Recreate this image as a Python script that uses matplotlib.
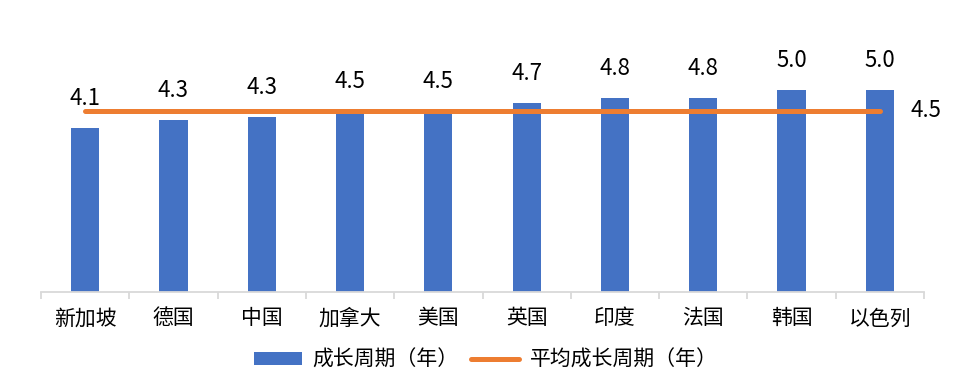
import matplotlib.pyplot as plt
import numpy as np

plt.rcParams["font.family"] = ["Noto Sans CJK SC", "DejaVu Sans"]

countries = ["新加坡", "德国", "中国", "加拿大", "美国", "英国", "印度", "法国", "韩国", "以色列"]
cycle_years = [4.06, 4.26, 4.33, 4.48, 4.47, 4.68, 4.80, 4.80, 5.00, 5.00]
avg_years = [4.48] * len(countries)

BAR_COLOR = "#4472c4"
LINE_COLOR = "#ed7d31"
AXIS_COLOR = "#d9d9d9"

fig = plt.figure(figsize=(9.69, 3.92), dpi=100)
ax = fig.add_axes([0.0423, 0.255, 0.9113, 0.722])

x = np.arange(len(countries))
bar_cont = ax.bar(x, cycle_years, width=0.32, color=BAR_COLOR, label="成长周期（年）", zorder=2)
(avg_line,) = ax.plot(x, avg_years, color=LINE_COLOR, lw=3.6, solid_capstyle="round",
                      label="平均成长周期（年）", zorder=3)

for xi, v in zip(x, cycle_years):
    ax.annotate(f"{v:.1f}", (xi, v), xytext=(0, 13), textcoords="offset points",
                ha="center", va="bottom", fontsize=16, color="#000000")
ax.annotate(f"{avg_years[-1]:.1f}", (x[-1], avg_years[-1]), xytext=(22, 0),
            textcoords="offset points", ha="left", va="center", fontsize=16)

ax.set_xlim(-0.5, len(countries) - 0.5)
ax.set_ylim(0, 7)
ax.set_yticks([])
for side in ["left", "right", "top"]:
    ax.spines[side].set_visible(False)
ax.spines["bottom"].set_color(AXIS_COLOR)
ax.spines["bottom"].set_linewidth(1.3)

ax.set_xticks(x)
ax.set_xticklabels(countries, fontsize=15)
ax.tick_params(axis="x", length=0, pad=11)
ax.set_xticks(np.arange(-0.5, len(countries)), minor=True)
ax.tick_params(axis="x", which="minor", length=5, width=1.3, color=AXIS_COLOR)

ax.legend(handles=[bar_cont, avg_line], loc="center", bbox_to_anchor=(0.504, -0.24),
          ncol=2, frameon=False, fontsize=15, handlelength=2.3, handleheight=0.6,
          columnspacing=0.6, handletextpad=0.5)

fig.savefig("out.png", dpi=100)
